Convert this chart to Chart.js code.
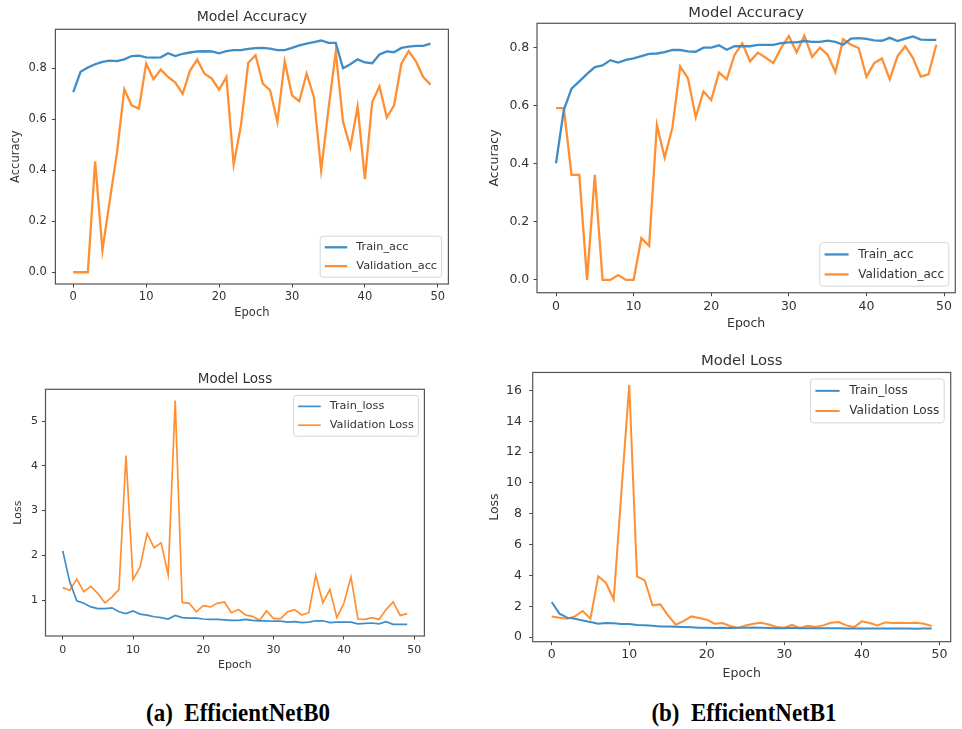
<!DOCTYPE html>
<html>
<head>
<meta charset="utf-8">
<script src="https://cdn.jsdelivr.net/npm/chart.js@4/dist/chart.umd.min.js"></script>
<style>
  html, body { margin:0; padding:0; background:#fff; width:962px; height:729px; overflow:hidden; }
  canvas { position:absolute; }
  .cap { position:absolute; font-family:"Liberation Serif","Times New Roman",serif; font-weight:bold;
         font-size:23px; color:#000; white-space:pre; transform:translate(-50%,-50%) scaleY(1.08); }
</style>
</head>
<body>
<canvas id="cA" width="459" height="324" style="left:0px;top:0px"></canvas>
<canvas id="cB" width="481" height="338" style="left:480px;top:0px"></canvas>
<canvas id="cC" width="435" height="336" style="left:0px;top:340px"></canvas>
<canvas id="cD" width="481" height="347" style="left:480px;top:340px"></canvas>
<div class="cap" style="left:238px;top:713px">(a)  EfficientNetB0</div>
<div class="cap" style="left:744px;top:713px">(b)  EfficientNetB1</div>
<script>
// ---------- data ----------
const epochs = [0,1,2,3,4,5,6,7,8,9,10,11,12,13,14,15,16,17,18,19,20,21,22,23,24,25,26,27,28,29,30,31,32,33,34,35,36,37,38,39,40,41,42,43,44,45,46,47,48,49];

const b0TrainAcc = [0.707,0.786,0.803,0.816,0.825,0.830,0.828,0.835,0.848,0.850,0.843,0.842,0.843,0.859,0.848,0.857,0.862,0.866,0.867,0.866,0.859,0.867,0.871,0.871,0.876,0.879,0.880,0.877,0.871,0.871,0.880,0.890,0.897,0.903,0.909,0.900,0.900,0.800,0.816,0.835,0.823,0.820,0.854,0.866,0.863,0.880,0.885,0.888,0.888,0.897];
const b0ValAcc = [0.0,0.0,0.0,0.435,0.086,0.28,0.47,0.718,0.655,0.642,0.818,0.757,0.795,0.766,0.744,0.700,0.790,0.834,0.779,0.760,0.716,0.766,0.422,0.576,0.822,0.851,0.740,0.714,0.590,0.827,0.694,0.671,0.779,0.688,0.400,0.640,0.864,0.590,0.490,0.650,0.365,0.668,0.730,0.607,0.655,0.818,0.867,0.827,0.766,0.736];

const b1TrainAcc = [0.402,0.585,0.659,0.684,0.710,0.733,0.739,0.757,0.749,0.758,0.763,0.771,0.779,0.780,0.785,0.792,0.792,0.787,0.786,0.800,0.800,0.808,0.793,0.805,0.805,0.805,0.810,0.810,0.810,0.816,0.818,0.818,0.823,0.820,0.820,0.824,0.820,0.810,0.831,0.833,0.830,0.825,0.824,0.834,0.823,0.831,0.839,0.828,0.827,0.827];
const b1ValAcc = [0.592,0.592,0.362,0.362,0.0,0.362,0.0,0.0,0.017,0.0,0.0,0.144,0.117,0.534,0.421,0.525,0.735,0.695,0.560,0.649,0.620,0.714,0.691,0.775,0.815,0.753,0.783,0.766,0.747,0.799,0.840,0.784,0.841,0.768,0.800,0.776,0.716,0.829,0.810,0.799,0.700,0.747,0.763,0.691,0.770,0.805,0.764,0.700,0.708,0.810];

const b0TrainLoss = [2.10,1.41,0.985,0.93,0.85,0.81,0.81,0.83,0.74,0.70,0.76,0.69,0.665,0.63,0.61,0.58,0.66,0.61,0.60,0.60,0.58,0.57,0.57,0.56,0.55,0.55,0.57,0.55,0.54,0.54,0.53,0.53,0.51,0.52,0.50,0.51,0.54,0.54,0.50,0.51,0.51,0.51,0.47,0.48,0.49,0.47,0.52,0.46,0.46,0.46];
const b0ValLoss = [1.28,1.22,1.47,1.19,1.31,1.15,0.94,1.07,1.24,4.23,1.46,1.74,2.49,2.17,2.28,1.57,5.46,0.95,0.93,0.74,0.88,0.85,0.93,0.96,0.72,0.79,0.67,0.64,0.55,0.76,0.59,0.59,0.74,0.79,0.67,0.72,1.56,0.94,1.24,0.61,0.93,1.52,0.58,0.57,0.61,0.57,0.79,0.96,0.66,0.70];

const b1TrainLoss = [2.28,1.52,1.26,1.19,1.08,0.98,0.87,0.91,0.89,0.85,0.85,0.78,0.76,0.74,0.69,0.69,0.67,0.65,0.64,0.61,0.61,0.59,0.61,0.59,0.60,0.60,0.62,0.60,0.59,0.58,0.58,0.60,0.58,0.57,0.57,0.58,0.57,0.58,0.56,0.56,0.55,0.56,0.56,0.55,0.55,0.56,0.55,0.54,0.55,0.55];
const b1ValLoss = [1.34,1.26,1.19,1.34,1.69,1.19,3.94,3.51,2.43,9.5,16.36,3.94,3.68,2.06,2.12,1.41,0.80,1.04,1.34,1.24,1.13,0.87,0.91,0.72,0.59,0.75,0.87,0.93,0.82,0.65,0.61,0.80,0.59,0.74,0.65,0.76,0.93,0.98,0.76,0.65,1.02,0.91,0.76,0.95,0.91,0.93,0.91,0.93,0.87,0.72];

const epochTicks = [0,10,20,30,40,50];
const accTicks = [0.0,0.2,0.4,0.6,0.8];
const b0LossTicks = [1,2,3,4,5];
const b1LossTicks = [0,2,4,6,8,10,12,14,16];

// ---------- styles ----------
const FONT = '"DejaVu Sans", "Liberation Sans", sans-serif';
const TXT = '#333333';
const TICKC = '#444444';
const BLUE = '#3f8dc8';
const ORANGE = '#ff8f33';

const framePlugin = {
  id: 'mplFrame',
  afterDraw(chart) {
    const a = chart.chartArea, ctx = chart.ctx;
    ctx.save();
    ctx.strokeStyle = '#555555';
    ctx.lineWidth = 1.2;
    ctx.strokeRect(a.left, a.top, a.right - a.left, a.bottom - a.top);
    ctx.restore();
  }
};

const legendPlugin = {
  id: 'mplLegend',
  afterDraw(chart, args, opts) {
    const a = chart.chartArea, ctx = chart.ctx;
    const fs = opts.size;
    const items = chart.data.datasets;
    ctx.save();
    ctx.font = fs + 'px ' + FONT;
    const tw = Math.max.apply(null, items.map(d => ctx.measureText(d.label).width));
    const rowH = 1.164 * fs;
    const w = 3.6 * fs + tw;
    const h = 0.8 * fs + items.length * rowH + (items.length - 1) * 0.5 * fs;
    const x = a.right - opts.pad - w;
    const y = opts.loc === 'lower right' ? a.bottom - opts.pad - h : a.top + opts.pad;
    const r = 0.25 * fs;
    ctx.beginPath();
    ctx.moveTo(x + r, y);
    ctx.lineTo(x + w - r, y); ctx.quadraticCurveTo(x + w, y, x + w, y + r);
    ctx.lineTo(x + w, y + h - r); ctx.quadraticCurveTo(x + w, y + h, x + w - r, y + h);
    ctx.lineTo(x + r, y + h); ctx.quadraticCurveTo(x, y + h, x, y + h - r);
    ctx.lineTo(x, y + r); ctx.quadraticCurveTo(x, y, x + r, y);
    ctx.closePath();
    ctx.fillStyle = 'rgba(255,255,255,0.85)';
    ctx.fill();
    ctx.strokeStyle = '#d6d6d6';
    ctx.lineWidth = 1;
    ctx.stroke();
    items.forEach((d, i) => {
      const cy = y + 0.4 * fs + i * (rowH + 0.5 * fs) + rowH / 2;
      ctx.beginPath();
      ctx.strokeStyle = d.borderColor;
      ctx.lineWidth = d.borderWidth;
      ctx.moveTo(x + 0.4 * fs, cy);
      ctx.lineTo(x + 2.4 * fs, cy);
      ctx.stroke();
      ctx.fillStyle = TXT;
      ctx.textAlign = 'left';
      ctx.textBaseline = 'middle';
      ctx.fillText(d.label, x + 3.2 * fs, cy);
    });
    ctx.restore();
  }
};

function series(ys) { return epochs.map((e, i) => ({ x: e, y: ys[i] })); }

function makeChart(id, c) {
  return new Chart(document.getElementById(id), {
    type: 'line',
    data: {
      datasets: [
        { label: c.labels[0], data: series(c.train), borderColor: BLUE, backgroundColor: BLUE,
          borderWidth: c.lw, pointRadius: 0, tension: 0, fill: false },
        { label: c.labels[1], data: series(c.val), borderColor: ORANGE, backgroundColor: ORANGE,
          borderWidth: c.lw, pointRadius: 0, tension: 0, fill: false }
      ]
    },
    options: {
      responsive: false,
      animation: false,
      events: [],
      layout: { padding: { left: 0, top: 0, right: c.padR, bottom: 0 } },
      plugins: {
        legend: { display: false },
        tooltip: { enabled: false },
        title: {
          display: true, text: c.title, fullSize: false, color: TXT,
          font: { family: FONT, size: c.titleSize, weight: 'normal', lineHeight: 1.2 },
          padding: { top: c.titlePadT, bottom: c.titlePadB }
        },
        mplLegend: { loc: c.legendLoc, size: c.legendSize, pad: c.legendPad }
      },
      scales: {
        x: {
          type: 'linear', min: -2.45, max: 51.45,
          afterBuildTicks: s => { s.ticks = epochTicks.map(v => ({ value: v })); },
          afterFit: s => { s.height = c.xh; },
          grid: { drawOnChartArea: false, drawTicks: true, tickLength: 3.5, color: TICKC, lineWidth: 1 },
          border: { display: false },
          ticks: { color: TXT, font: { family: FONT, size: c.tickSize }, padding: c.xTickPad,
                   maxRotation: 0, autoSkip: false, callback: v => String(v) },
          title: { display: true, text: 'Epoch', color: TXT, font: { family: FONT, size: c.labelSize },
                   padding: { top: 0, bottom: c.xTitlePadB } }
        },
        y: {
          type: 'linear', min: c.ymin, max: c.ymax,
          afterBuildTicks: s => { s.ticks = c.yTicks.map(v => ({ value: v })); },
          afterFit: s => { s.width = c.yw; },
          grid: { drawOnChartArea: false, drawTicks: true, tickLength: 3.5, color: TICKC, lineWidth: 1 },
          border: { display: false },
          ticks: { color: TXT, font: { family: FONT, size: c.tickSize }, padding: c.yTickPad,
                   autoSkip: false, callback: c.yFmt },
          title: { display: true, text: c.ylabel, color: TXT, font: { family: FONT, size: c.labelSize },
                   padding: { top: c.yTitlePadT, bottom: 0 } }
        }
      }
    },
    plugins: [framePlugin, legendPlugin]
  });
}

makeChart('cA', {
  title: 'Model Accuracy', ylabel: 'Accuracy', labels: ['Train_acc', 'Validation_acc'],
  train: b0TrainAcc, val: b0ValAcc, yTicks: accTicks, yFmt: v => Number(v).toFixed(1),
  ymin: -0.046, ymax: 0.953, lw: 2.3,
  padR: 10.6, yw: 55.4, xh: 40,
  titleSize: 14, titlePadT: 9.4, titlePadB: 3.1,
  tickSize: 11.5, labelSize: 11.5, xTickPad: 2.3, yTickPad: 5.2, xTitlePadB: 3.8, yTitlePadT: 9.1,
  legendLoc: 'lower right', legendSize: 11.3, legendPad: 6.8
});

makeChart('cB', {
  title: 'Model Accuracy', ylabel: 'Accuracy', labels: ['Train_acc', 'Validation_acc'],
  train: b1TrainAcc, val: b1ValAcc, yTicks: accTicks, yFmt: v => Number(v).toFixed(1),
  ymin: -0.044, ymax: 0.884, lw: 2.3,
  padR: 5.7, yw: 57, xh: 45.3,
  titleSize: 14.7, titlePadT: 3.9, titlePadB: 1.76,
  tickSize: 12.5, labelSize: 12.5, xTickPad: 3.0, yTickPad: 4.2, xTitlePadB: 7.2, yTitlePadT: 7.5,
  legendLoc: 'lower right', legendSize: 12, legendPad: 6.5
});

makeChart('cC', {
  title: 'Model Loss', ylabel: 'Loss', labels: ['Train_loss', 'Validation Loss'],
  train: b0TrainLoss, val: b0ValLoss, yTicks: b0LossTicks, yFmt: v => String(v),
  ymin: 0.2, ymax: 5.71, lw: 1.7,
  padR: 10.6, yw: 45.5, xh: 40,
  titleSize: 13.5, titlePadT: 30.9, titlePadB: 2.2,
  tickSize: 11, labelSize: 11, xTickPad: 3.9, yTickPad: 4, xTitlePadB: 4.4, yTitlePadT: 11.8,
  legendLoc: 'upper right', legendSize: 11.3, legendPad: 6
});

makeChart('cD', {
  title: 'Model Loss', ylabel: 'Loss', labels: ['Train_loss', 'Validation Loss'],
  train: b1TrainLoss, val: b1ValLoss, yTicks: b1LossTicks, yFmt: v => String(v),
  ymin: -0.3, ymax: 17.17, lw: 2,
  padR: 10.3, yw: 52.7, xh: 45.3,
  titleSize: 14.8, titlePadT: 11.8, titlePadB: 2.9,
  tickSize: 12.5, labelSize: 12.5, xTickPad: 2.3, yTickPad: 7.2, xTitlePadB: 6.2, yTitlePadT: 7.3,
  legendLoc: 'upper right', legendSize: 12.1, legendPad: 6.5
});
</script>
</body>
</html>
